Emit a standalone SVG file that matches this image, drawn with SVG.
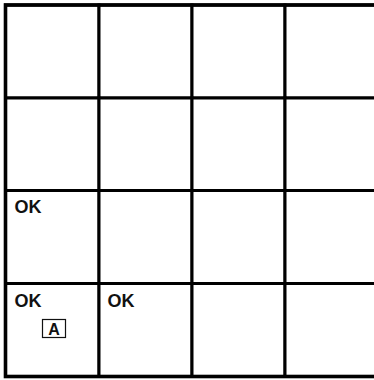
<svg xmlns="http://www.w3.org/2000/svg" width="374" height="380" viewBox="0 0 374 380">
<style>
.cell{fill:#ffffff;stroke:#000000;stroke-width:3}
.frame{fill:none;stroke:#000000;stroke-width:3.6}
.lbl{font-family:"Liberation Sans",Arial,sans-serif;font-weight:bold;font-size:18px;fill:#111111}
.tag{fill:#ffffff;stroke:#111111;stroke-width:1.2}
.tagt{font-family:"Liberation Sans",Arial,sans-serif;font-weight:bold;font-size:16px;fill:#111111;text-anchor:middle}
</style>
<rect width="374" height="380" fill="#ffffff"/>
<g id="grid">
<g id="r1c1"><rect class="cell" x="5.5" y="5" width="93.5" height="93"/></g>
<g id="r1c2"><rect class="cell" x="99" y="5" width="93" height="93"/></g>
<g id="r1c3"><rect class="cell" x="192" y="5" width="93" height="93"/></g>
<g id="r1c4"><rect class="cell" x="285" y="5" width="93" height="93"/></g>
<g id="r2c1"><rect class="cell" x="5.5" y="98" width="93.5" height="92.5"/></g>
<g id="r2c2"><rect class="cell" x="99" y="98" width="93" height="92.5"/></g>
<g id="r2c3"><rect class="cell" x="192" y="98" width="93" height="92.5"/></g>
<g id="r2c4"><rect class="cell" x="285" y="98" width="93" height="92.5"/></g>
<g id="r3c1"><rect class="cell" x="5.5" y="190.5" width="93.5" height="93"/><text class="lbl" x="14.5" y="212.5">OK</text></g>
<g id="r3c2"><rect class="cell" x="99" y="190.5" width="93" height="93"/></g>
<g id="r3c3"><rect class="cell" x="192" y="190.5" width="93" height="93"/></g>
<g id="r3c4"><rect class="cell" x="285" y="190.5" width="93" height="93"/></g>
<g id="r4c1"><rect class="cell" x="5.5" y="283.5" width="93.5" height="93"/><text class="lbl" x="14.5" y="306.5">OK</text><rect class="tag" x="42.5" y="319.5" width="23" height="18"/><text class="tagt" x="54" y="335">A</text></g>
<g id="r4c2"><rect class="cell" x="99" y="283.5" width="93" height="93"/><text class="lbl" x="107.5" y="306.5">OK</text></g>
<g id="r4c3"><rect class="cell" x="192" y="283.5" width="93" height="93"/></g>
<g id="r4c4"><rect class="cell" x="285" y="283.5" width="93" height="93"/></g>
<rect class="frame" x="5.5" y="5" width="372.5" height="371.5"/>
</g>
<g id="connectors"></g>
</svg>
